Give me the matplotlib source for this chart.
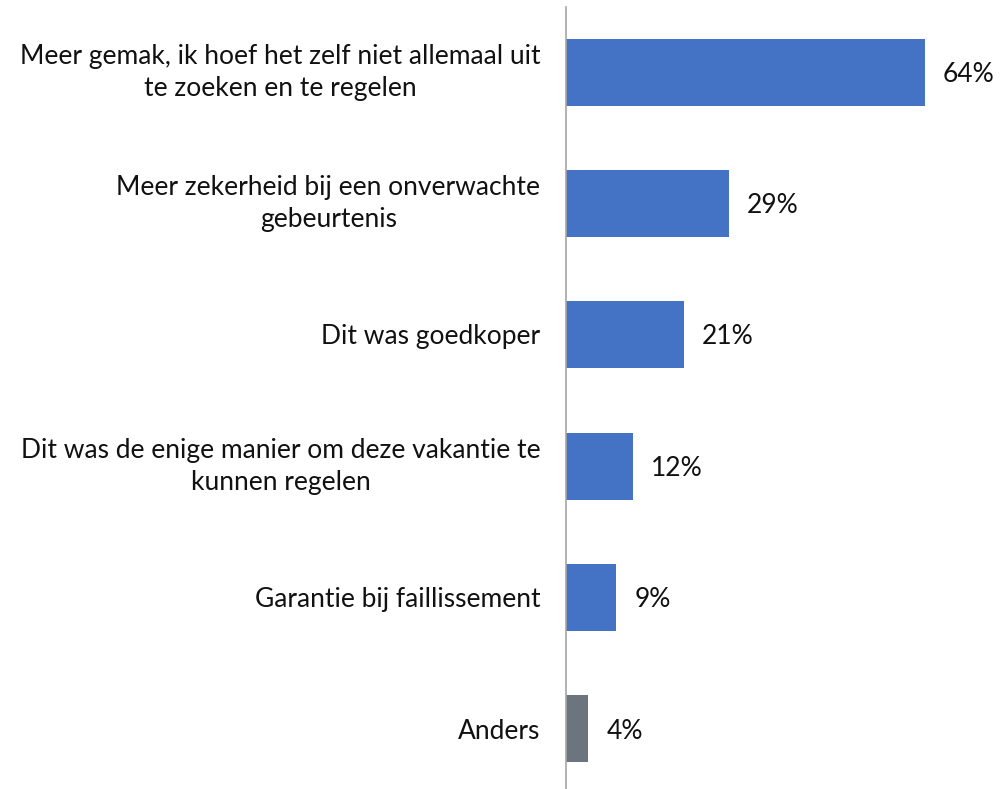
import matplotlib.pyplot as plt

plt.rcParams['font.family'] = ['Lato', 'DejaVu Sans']

labels = ['Meer gemak, ik hoef het zelf niet allemaal uit\nte zoeken en te regelen',
          'Meer zekerheid bij een onverwachte\ngebeurtenis',
          'Dit was goedkoper',
          'Dit was de enige manier om deze vakantie te\nkunnen regelen',
          'Garantie bij faillissement',
          'Anders']
values = [64, 29, 21, 12, 9, 4]
colors = ['#4472C4'] * 5 + ['#6C757D']

fig = plt.figure(figsize=(10.01, 7.89), dpi=100)
ax = fig.add_axes([566/1001, 0, 435/1001, 782/789])

y = list(range(len(values)))
ax.barh(y, values, height=0.51, color=colors)
ax.set_ylim(5.457, -0.495)
ax.set_xlim(0, 435/5.61)

for yi, v in zip(y, values):
    ax.annotate(f'{v}%', (v, yi), xytext=(13, -1.5), textcoords='offset points',
                va='center', ha='left', fontsize=19, color='#111111')

# category labels on the left of the axis line
for yi, lab in zip(y, labels):
    dy = 0 if '\n' in lab else -1.5
    ax.annotate(lab, (0, yi), xytext=(-18.5, dy), textcoords='offset points',
                va='center', ha='right', multialignment='center',
                fontsize=19, color='#111111', linespacing=1.35,
                annotation_clip=False)

ax.set_yticks([])
ax.set_xticks([])
for s in ['top', 'right', 'bottom']:
    ax.spines[s].set_visible(False)
ax.spines['left'].set_color('#A6A6A6')
ax.spines['left'].set_linewidth(1.2)

fig.savefig('out.png', dpi=100)
